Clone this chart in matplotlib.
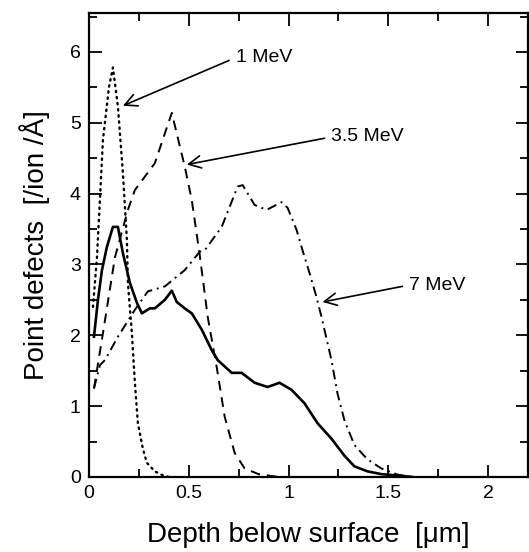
import matplotlib
matplotlib.use("Agg")
import matplotlib.pyplot as plt
from matplotlib.ticker import MultipleLocator

plt.rcParams['font.family'] = ['Liberation Sans', 'DejaVu Sans']

# depth [um] and point defects [/ion/A]
x_1mev = [0.02, 0.04, 0.07, 0.10, 0.12, 0.145, 0.17, 0.19, 0.195, 0.215, 0.23, 0.245,
          0.27, 0.29, 0.33, 0.365, 0.40]
y_1mev = [2.4, 3.1, 4.76, 5.5, 5.78, 5.23, 4.29, 3.35, 2.74, 2.03, 1.33, 0.76,
          0.4, 0.2, 0.08, 0.03, 0.0]

x_35mev = [0.025, 0.07, 0.13, 0.195, 0.23, 0.33, 0.415, 0.48, 0.515, 0.555, 0.595,
           0.64, 0.68, 0.73, 0.78, 0.85, 0.9, 0.95]
y_35mev = [1.25, 2.03, 3.1, 3.77, 4.05, 4.43, 5.14, 4.38, 3.91, 3.13, 2.26,
           1.55, 0.85, 0.34, 0.12, 0.04, 0.02, 0.0]

x_7mev = [0.025, 0.055, 0.08, 0.145, 0.23, 0.295, 0.38, 0.48, 0.555, 0.58, 0.665,
          0.745, 0.77, 0.83, 0.89, 0.965, 0.995, 1.04, 1.07, 1.105, 1.14, 1.165,
          1.215, 1.245, 1.28, 1.33, 1.395, 1.465, 1.55, 1.62]
y_7mev = [1.25, 1.58, 1.65, 1.98, 2.36, 2.62, 2.69, 2.92, 3.18, 3.2, 3.53,
          4.1, 4.12, 3.84, 3.77, 3.88, 3.8, 3.49, 3.2, 2.88, 2.54, 2.26,
          1.65, 1.18, 0.8, 0.45, 0.25, 0.12, 0.03, 0.0]

x_total = [0.025, 0.045, 0.065, 0.09, 0.12, 0.145, 0.17, 0.205, 0.24, 0.265, 0.305,
           0.33, 0.38, 0.415, 0.44, 0.48, 0.515, 0.565, 0.615, 0.645, 0.715, 0.765,
           0.83, 0.895, 0.955, 1.015, 1.08, 1.145, 1.215, 1.28, 1.33, 1.395, 1.465,
           1.55, 1.62]
y_total = [1.98, 2.5, 2.92, 3.25, 3.53, 3.53, 3.16, 2.74, 2.46, 2.31, 2.38,
           2.38, 2.5, 2.63, 2.47, 2.38, 2.31, 2.08, 1.79, 1.65, 1.47, 1.47,
           1.33, 1.27, 1.33, 1.23, 1.04, 0.76, 0.54, 0.3, 0.15, 0.08, 0.04,
           0.02, 0.0]

labels = ["1 MeV", "3.5 MeV", "7 MeV"]
label_pos = [(0.735, 5.92), (1.215, 4.80), (1.605, 2.71)]
arrow_tip = [(0.17, 5.24), (0.49, 4.41), (1.17, 2.47)]

fig = plt.figure(figsize=(5.29, 5.52), dpi=100)
ax = fig.add_axes([0.1682, 0.1359, 0.830, 0.8406])

ax.plot(x_1mev, y_1mev, color='black', lw=1.7, linestyle=(0, (0.6, 2.0)),
        dash_capstyle='round')
ax.plot(x_35mev, y_35mev, color='black', lw=1.4, linestyle=(0, (5, 3.5)))
ax.plot(x_7mev, y_7mev, color='black', lw=1.4, linestyle=(0, (5, 2.5, 1, 2.5)))
ax.plot(x_total, y_total, color='black', lw=1.9)

for txt, pos, tip in zip(labels, label_pos, arrow_tip):
    ax.annotate(txt, xy=tip, xytext=pos, ha='left', va='center', fontsize=14,
                arrowprops=dict(arrowstyle='->', lw=1.2, color='black',
                                mutation_scale=22, shrinkA=3, shrinkB=0,
                                relpos=(0, 0.5)))

ax.set_xlim(0, 2.2)
ax.set_ylim(0, 6.55)
ax.xaxis.set_major_locator(MultipleLocator(0.5))
ax.xaxis.set_minor_locator(MultipleLocator(0.25))
ax.yaxis.set_major_locator(MultipleLocator(1))
ax.yaxis.set_minor_locator(MultipleLocator(0.5))
ax.set_xticks([0, 0.5, 1, 1.5, 2])
ax.set_xticklabels(["0", "0.5", "1", "1.5", "2"])
ax.tick_params(which='both', direction='in', top=True, right=True, width=1.3,
               labelsize=14, pad=6)
ax.tick_params(which='major', length=9)
ax.tick_params(which='minor', length=6)
for s in ax.spines.values():
    s.set_linewidth(1.6)

ax.set_xlabel("Depth below surface  [\u03bcm]", fontsize=20, labelpad=14)
ax.set_ylabel("Point defects  [/ion /\u00c5]", fontsize=20, labelpad=14)

fig.savefig("out.png", dpi=100)
